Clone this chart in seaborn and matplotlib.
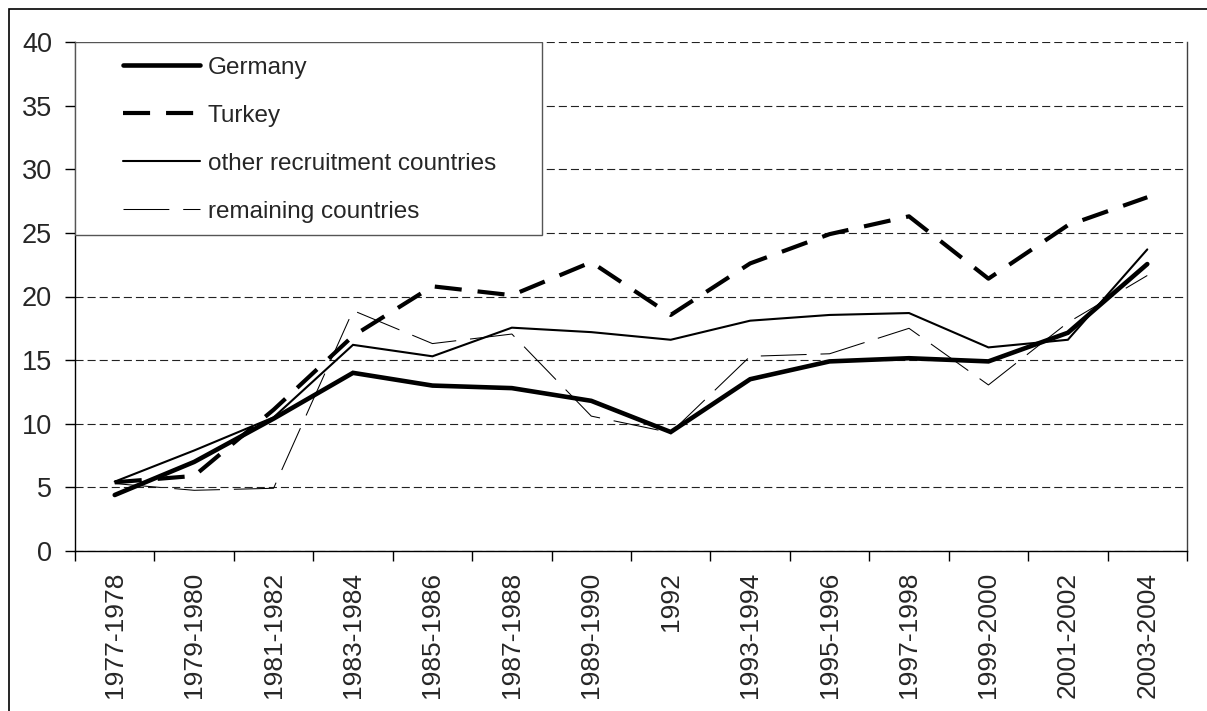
# share by origin group, 1977-2004
import pandas as pd
import matplotlib
matplotlib.use("Agg")
import matplotlib.pyplot as plt
import seaborn as sns
from matplotlib.lines import Line2D
from matplotlib.patches import Rectangle

periods = ["1977-1978", "1979-1980", "1981-1982", "1983-1984", "1985-1986",
           "1987-1988", "1989-1990", "1992", "1993-1994", "1995-1996",
           "1997-1998", "1999-2000", "2001-2002", "2003-2004"]

germany = [4.4, 7.0, 10.4, 14.0, 13.0, 12.8, 11.8, 9.35, 13.5, 14.9, 15.15, 14.9, 17.15, 22.55]
turkey = [5.4, 5.9, 11.1, 16.9, 20.8, 20.1, 22.7, 18.55, 22.6, 24.9, 26.3, 21.4, 25.6, 27.8]
other_recruitment = [5.45, 7.9, 10.5, 16.2, 15.3, 17.55, 17.2, 16.6, 18.1, 18.55, 18.7, 16.0, 16.6, 23.7]
remaining = [5.3, 4.77, 4.93, 18.9, 16.3, 17.05, 10.6, 9.3, 15.3, 15.5, 17.5, 13.05, 17.95, 21.65]

series_names = ["Germany", "Turkey", "other recruitment countries", "remaining countries"]

sns.set_style("white")
plt.rcParams["font.family"] = ["Liberation Sans", "DejaVu Sans"]
plt.rcParams["lines.scale_dashes"] = False

df = pd.DataFrame({"period": periods * 4,
                   "value": germany + turkey + other_recruitment + remaining,
                   "series": [s for s in series_names for _ in periods]})

# style per series: linewidth, linestyle
styles = {
    "Germany": dict(linewidth=3.3, linestyle="-"),
    "Turkey": dict(linewidth=3.0, linestyle=(0, (19.5, 11.5))),
    "other recruitment countries": dict(linewidth=1.5, linestyle="-"),
    "remaining countries": dict(linewidth=0.75, linestyle=(0, (33, 10))),
}

fig = plt.figure(figsize=(12.07, 7.11), dpi=100)
ax = fig.add_axes([75 / 1207, 1 - 551 / 711, 1112 / 1207, 509 / 711])

for name in series_names:
    sub = df[df["series"] == name]
    sns.lineplot(data=sub, x="period", y="value", ax=ax, color="black",
                 legend=False, solid_joinstyle="miter", dash_capstyle="butt",
                 **styles[name])

ax.set_xlim(-0.5, len(periods) - 0.5)
ax.set_ylim(0, 40)
ax.set_xlabel("")
ax.set_ylabel("")

# category axis: ticks between categories, labels in the middle
ax.set_xticks([i - 0.5 for i in range(len(periods) + 1)])
ax.set_xticklabels([])
ax.set_xticks(range(len(periods)), minor=True)
ax.set_xticklabels(periods, minor=True, rotation=90, fontsize=19, va="top")
ax.tick_params(axis="x", which="major", direction="out", length=7, width=1, color="black", bottom=True)
ax.tick_params(axis="x", which="minor", length=0, pad=15)

ax.set_yticks(range(0, 41, 5))
ax.tick_params(axis="y", direction="out", length=7.5, width=1, color="black", labelsize=19.5, pad=9, left=True)

ax.yaxis.grid(True, color="#222222", linewidth=0.8, linestyle=(0, (5.8, 2.9)))
ax.xaxis.grid(False)
ax.set_axisbelow(True)

for side in ["left", "bottom"]:
    ax.spines[side].set_color("black")
    ax.spines[side].set_linewidth(1.0)
ax.spines["top"].set_visible(False)
ax.spines["right"].set_color("#404040")
ax.spines["right"].set_linewidth(1.0)

# legend box
ax.add_patch(Rectangle((0, 0.621), 0.42, 0.379, transform=ax.transAxes,
                       facecolor="white", edgecolor="#555555", linewidth=1.0, zorder=3))
handles = [Line2D([], [], color="black", dash_capstyle="butt", **styles[n]) for n in series_names]
leg = ax.legend(handles, series_names, loc="upper left", bbox_to_anchor=(0.043, 0.971),
                frameon=False, fontsize=17.5, handlelength=3.17, handletextpad=0.33,
                labelspacing=1.07, borderpad=0, borderaxespad=0)
leg.set_zorder(5)

# outer chart frame
fig.patches.append(Rectangle((9 / 1207, -0.2), 1.3, 1.2 - 9 / 711, transform=fig.transFigure,
                             facecolor="none", edgecolor="black", linewidth=1.2))

fig.savefig("out.png", dpi=100)
